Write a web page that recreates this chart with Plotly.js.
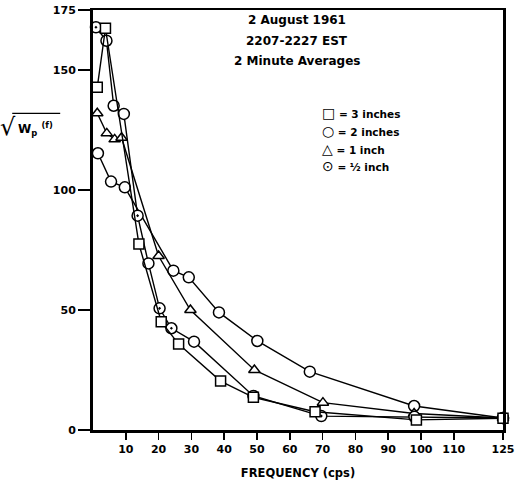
<!DOCTYPE html>
<html>
<head>
<meta charset="utf-8">
<script src="https://cdn.plot.ly/plotly-3.0.1.min.js"></script>
<style>html,body{margin:0;padding:0;background:#fff;}#chart{width:516px;height:483px;}</style>
</head>
<body>
<div id="chart"></div>
<script>
// Frequency (cps) and sqrt(Wp(f))
var freq3in = [1.3, 3.8, 14.0, 20.8, 26.1, 38.9, 48.9, 67.7, 98.6, 125];
var val3in  = [142.8, 167.4, 77.5, 45.1, 35.8, 20.4, 13.6, 7.6, 4.2, 4.9];

var freq2in = [1.5, 5.5, 9.7, 24.5, 29.2, 38.4, 50.1, 66.1, 97.9, 125];
var val2in  = [115.3, 103.5, 101.1, 66.4, 63.6, 49.0, 37.1, 24.3, 10.0, 5.0];

var freq1in = [1.3, 4.2, 6.6, 8.7, 20.0, 29.7, 49.2, 70.1, 97.9, 125];
var val1in  = [132.0, 123.6, 121.1, 121.8, 72.5, 50.0, 25.0, 11.4, 6.9, 5.0];

var freqHalf = [0.9, 4.1, 6.3, 9.4, 13.6, 16.9, 20.3, 23.9, 30.8, 48.9, 69.6, 98.0, 125];
var valHalf  = [167.8, 162.2, 135.1, 131.7, 89.3, 69.4, 50.7, 42.4, 36.8, 14.2, 5.8, 5.5, 5.0];

var xTicks = [10, 20, 30, 40, 50, 60, 70, 80, 90, 100, 110, 125];
var yTicks = [0, 50, 100, 150, 175];

var legendSymbols = ['\u25A1', '\u25CB', '\u25B3', '\u2299'];
var legendLabels = ['= 3 inches', '= 2 inches', '= 1 inch', '= \u00BD inch'];
var titleLines = ['2 August 1961', '2207-2227 EST', '2 Minute Averages'];

// marker look of the 1/2-inch points as printed (some dots not visible in the print)
var halfSymbols = ['circle-dot', 'circle', 'circle', 'circle', 'circle-dot', 'circle', 'circle-dot',
                   'circle-dot', 'circle', 'circle-dot', 'circle-dot', 'circle-dot', 'circle-dot'];

var FONT = 'DejaVu Sans, sans-serif';

function tr(x, y, sym, size) {
  return {
    x: x, y: y, type: 'scatter', mode: 'lines+markers',
    line: {color: '#000', width: 1.4},
    marker: {symbol: sym, size: size, color: '#fff', line: {color: '#000', width: 1.5}},
    showlegend: false, cliponaxis: false
  };
}

var data = [
  tr(freq2in, val2in, 'circle', 11),
  tr(freq1in, val1in, 'triangle-up', 10),
  tr(freqHalf, valHalf, halfSymbols, 11),
  tr(freq3in, val3in, 'square', 10)
];

var annotations = [];
titleLines.forEach(function (t, i) {
  annotations.push({xref: 'paper', yref: 'paper', x: 0.4976, y: 0.976 - i * 0.0488,
    text: '<b>' + t + '</b>', showarrow: false, xanchor: 'center', yanchor: 'middle',
    font: {family: FONT, size: 12, color: '#000'}});
});
legendLabels.forEach(function (t, i) {
  annotations.push({xref: 'paper', yref: 'paper', x: 0.553, y: 0.754 - i * 0.042,
    text: '<span style="font-size:14px">' + legendSymbols[i] + '</span><b> ' + t + '</b>',
    showarrow: false, xanchor: 'left', yanchor: 'middle',
    font: {family: FONT, size: 10.5, color: '#000'}});
});
// y-axis label: radical sign, W_p(f) and the overbar
annotations.push({xref: 'paper', yref: 'paper', x: -0.207, y: 0.722,
  text: '\u221A', showarrow: false, xanchor: 'center', yanchor: 'middle',
  font: {family: FONT, size: 24, color: '#000'}});
annotations.push({xref: 'paper', yref: 'paper', x: -0.189, y: 0.716,
  text: '<b>W<sub>p</sub> <sup>(f)</sup></b>', showarrow: false, xanchor: 'left', yanchor: 'middle',
  font: {family: FONT, size: 12, color: '#000'}});

var layout = {
  width: 516, height: 483,
  margin: {l: 93, r: 13, t: 10, b: 53},
  paper_bgcolor: '#fff', plot_bgcolor: '#fff',
  xaxis: {
    range: [0, 125], tickvals: xTicks, ticktext: xTicks.map(String),
    ticks: 'outside', ticklen: 7, tickwidth: 1.5, tickcolor: '#000',
    showline: true, linewidth: 2.5, linecolor: '#000', mirror: true,
    showgrid: false, zeroline: false,
    tickfont: {family: FONT, size: 11, color: '#000', weight: 'bold'},
    title: {text: '<b>FREQUENCY (cps)</b>', standoff: 14, font: {family: FONT, size: 11.5, color: '#000'}}
  },
  yaxis: {
    range: [0, 175], tickvals: yTicks, ticktext: yTicks.map(String),
    ticks: 'outside', ticklen: 12, tickwidth: 1.5, tickcolor: '#000',
    showline: true, linewidth: 3, linecolor: '#000', mirror: true,
    showgrid: false, zeroline: false,
    tickfont: {family: FONT, size: 11, color: '#000', weight: 'bold'}
  },
  annotations: annotations,
  shapes: [{type: 'line', xref: 'paper', yref: 'paper', x0: -0.197, x1: -0.08, y0: 0.754, y1: 0.754,
    line: {color: '#000', width: 1.3}}],
  showlegend: false
};

Plotly.newPlot('chart', data, layout, {staticPlot: true, displayModeBar: false});
</script>
</body>
</html>
